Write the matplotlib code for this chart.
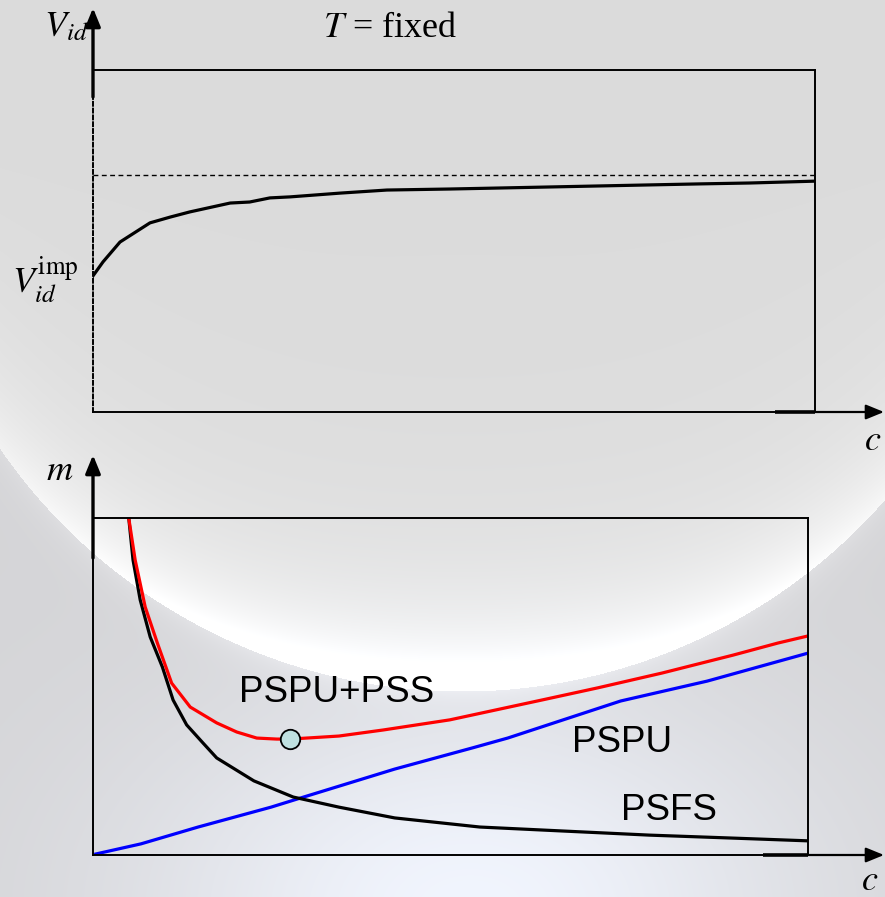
import matplotlib
matplotlib.use('Agg')
import matplotlib.pyplot as plt
import numpy as np

plt.rcParams['mathtext.fontset'] = 'stix'

# top panel: V_id against c at fixed T (box spans 0..100 on both axes)
c_top = [0, 1.39, 3.74, 7.89, 10.7, 13.4, 19.0, 21.7, 24.5, 27.3, 34.2, 40.7,
         49.4, 56.4, 63.3, 70.2, 77.1, 84.1, 91.0, 100]
v_id = [39.8, 43.9, 49.7, 55.3, 57.0, 58.5, 61.1, 61.4, 62.6, 62.9, 64.0, 64.9,
        65.2, 65.5, 65.8, 66.1, 66.4, 66.7, 66.96, 67.5]
v_limit = 69.3

# bottom panel: m against c
c_psfs = [5.0, 5.6, 6.6, 8.0, 9.7, 11.2, 13.1, 15.4, 17.3, 22.5, 28.0, 34.4, 42.2,
          54.1, 65.9, 77.8, 89.7, 100]
m_psfs = [100, 87.5, 75.7, 64.7, 55.8, 46.0, 38.6, 33.2, 28.8, 22.0, 17.2, 14.2, 11.0,
          8.3, 7.1, 5.9, 5.0, 4.2]

c_sum = [5.0, 5.9, 7.3, 9.0, 11.0, 13.6, 17.3, 20.1, 22.9, 25.7, 27.6, 34.4, 40.6,
         49.9, 62.8, 70.6, 79.6, 89.5, 95.8, 100]
m_sum = [100, 87.5, 73.6, 62.9, 51.0, 43.9, 39.2, 36.5, 34.7, 34.4, 34.4, 35.3, 37.1,
         40.1, 46.0, 49.6, 54.0, 59.3, 62.9, 65.0]

c_pspu = [0.4, 6.7, 14.7, 24.9, 29.0, 42.2, 53.1, 58.0, 73.8, 85.9, 100]
m_pspu = [0.3, 3.3, 8.3, 14.2, 16.9, 25.5, 31.8, 34.7, 45.7, 51.6, 59.9]

c_opt, m_opt = 27.6, 34.4

W, H = 885, 897
fig = plt.figure(figsize=(W / 100, H / 100), dpi=100)

# background: grey slide with a lit moon rim and a bluish glow underneath
yy, xx = np.mgrid[0:H, 0:W].astype(float)
cx, cy, R = 462, 129, 562
d = np.hypot(xx - cx, yy - cy)
down = np.clip((yy - cy) / np.maximum(d, 1), 0, 1)
img = np.zeros((H, W, 3))
img[:] = [0.835, 0.835, 0.845]
inside = d < R
inner = np.clip(R - d, 0, None)
lit = 0.86 + 0.13 * np.exp(-inner / 45) * down ** 1.3 + 0.05 * np.exp(-inner / 150) * down
for k in range(3):
    img[..., k] = np.where(inside, lit, img[..., k])
outer = np.clip(d - R, 0, None)
halo = np.where(inside, 0, 0.05 * np.exp(-outer / 14) * down)
glow = np.exp(-((xx - 470) / 330) ** 2 - ((yy - 910) / 220) ** 2)
img[..., 0] += halo + 0.11 * glow
img[..., 1] += halo + 0.125 * glow
img[..., 2] += halo + 0.15 * glow
img = np.clip(img, 0, 1)

bg = fig.add_axes([0, 0, 1, 1])
bg.imshow(img, extent=[0, W, H, 0], aspect='auto', zorder=0)
bg.set_xlim(0, W)
bg.set_ylim(H, 0)
bg.axis('off')


def panel(left, top, right, bottom):
    ax = fig.add_axes([left / W, 1 - bottom / H, (right - left) / W, (bottom - top) / H])
    ax.patch.set_alpha(0)
    ax.set_xlim(0, 100)
    ax.set_ylim(0, 100)
    ax.set_xticks([])
    ax.set_yticks([])
    for s in ax.spines.values():
        s.set_linewidth(1.4)
    return ax


ax1 = panel(93, 70, 815, 412)
ax1.spines['left'].set_linestyle((0, (2, 1.5)))
ax1.plot(c_top, v_id, color='black', lw=2.3)
ax1.axhline(v_limit, color='black', lw=1.0, ls=(0, (3.5, 2.5)))

ax2 = panel(93, 518, 808, 855)
ax2.plot(c_pspu, m_pspu, color='#0000ff', lw=2.3)
ax2.plot(c_psfs, m_psfs, color='black', lw=2.3)
ax2.plot(c_sum, m_sum, color='#ff0000', lw=2.3)
ax2.plot(c_opt, m_opt, 'o', ms=14, mfc='#bfe0e0', mec='black', mew=1.3)

sans = ['Liberation Sans', 'DejaVu Sans']
ax2.text(337, 693, 'PSPU+PSS', transform=bg.transData, fontsize=26.5, family=sans,
         ha='center', va='center')
ax2.text(622, 742, 'PSPU', transform=bg.transData, fontsize=26.5, family=sans,
         ha='center', va='center')
ax2.text(669, 810, 'PSFS', transform=bg.transData, fontsize=26.5, family=sans,
         ha='center', va='center')

# axis arrows drawn in pixel space
head = dict(arrowstyle='-|>,head_length=1.1,head_width=0.45', color='black', lw=1.6,
            shrinkA=0, shrinkB=0)
bg.annotate('', xy=(93, 8), xytext=(93, 97), arrowprops=dict(head, lw=2.4),
            annotation_clip=False)
bg.annotate('', xy=(93, 455), xytext=(93, 558), arrowprops=dict(head, lw=2.4),
            annotation_clip=False)
bg.annotate('', xy=(884, 412), xytext=(815, 412), arrowprops=head, annotation_clip=False)
bg.annotate('', xy=(884, 855), xytext=(808, 855), arrowprops=head, annotation_clip=False)
bg.plot([775, 815], [412, 412], color='black', lw=2.6, solid_capstyle='butt')
bg.plot([763, 808], [855, 855], color='black', lw=2.6, solid_capstyle='butt')

serif = ['Liberation Serif', 'DejaVu Serif']
bg.text(44, 36, r'$V_{id}$', fontsize=26, ha='left', va='baseline')
bg.text(12, 293, r'$V_{id}^{\mathrm{imp}}$', fontsize=26, ha='left', va='baseline')
bg.text(46, 480, r'$m$', fontsize=26, ha='left', va='baseline')
bg.text(864, 450, r'$c$', fontsize=26, ha='left', va='baseline')
bg.text(861, 890, r'$c$', fontsize=26, ha='left', va='baseline')
bg.text(323, 37, r'$T$ = fixed', fontsize=26, family=serif, ha='left', va='baseline')

fig.savefig('out.png', dpi=100)
